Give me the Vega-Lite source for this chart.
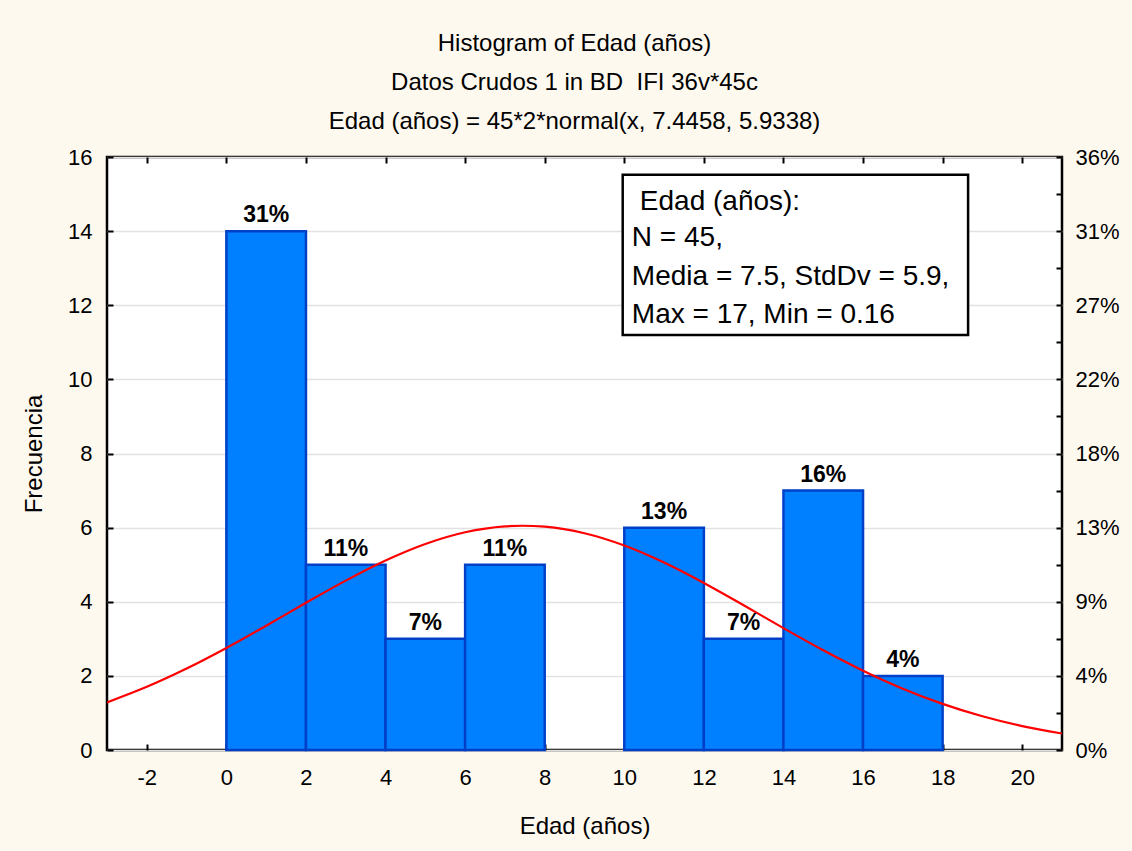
{
  "$schema": "https://vega.github.io/schema/vega-lite/v6.json",
  "width": 955,
  "height": 593,
  "autosize": {"type": "none"},
  "padding": {"left": 107, "top": 157, "right": 70, "bottom": 101},
  "background": "#FEF9EF",
  "title": {
    "text": ["Histogram of Edad (años)", "Datos Crudos 1 in BD \u00a0IFI 36v*45c", "Edad (años) = 45*2*normal(x, 7.4458, 5.9338)"],
    "font": "Liberation Sans",
    "fontSize": 24,
    "fontWeight": "normal",
    "color": "black",
    "lineHeight": 39,
    "anchor": "middle",
    "dx": -10,
    "offset": 12
  },
  "config": {
    "view": {"stroke": "black", "strokeWidth": 2.5, "fill": "white"},
    "axis": {
      "domain": false,
      "labelFont": "Liberation Sans",
      "labelFontSize": 22,
      "labelColor": "black",
      "titleFont": "Liberation Sans",
      "titleFontSize": 24,
      "titleFontWeight": "normal",
      "titleColor": "black",
      "tickColor": "black",
      "tickWidth": 2,
      "tickSize": -6,
      "grid": false
    }
  },
  "datasets": {
    "bins": [
      {"bin_start": 0, "bin_end": 2, "mid": 1, "count": 14, "label": "31%"},
      {"bin_start": 2, "bin_end": 4, "mid": 3, "count": 5, "label": "11%"},
      {"bin_start": 4, "bin_end": 6, "mid": 5, "count": 3, "label": "7%"},
      {"bin_start": 6, "bin_end": 8, "mid": 7, "count": 5, "label": "11%"},
      {"bin_start": 10, "bin_end": 12, "mid": 11, "count": 6, "label": "13%"},
      {"bin_start": 12, "bin_end": 14, "mid": 13, "count": 3, "label": "7%"},
      {"bin_start": 14, "bin_end": 16, "mid": 15, "count": 7, "label": "16%"},
      {"bin_start": 16, "bin_end": 18, "mid": 17, "count": 2, "label": "4%"}
    ],
    "curve": [
      {"x": -3, "y": 1.285}, {"x": -2, "y": 1.705}, {"x": -1, "y": 2.198},
      {"x": 0, "y": 2.754}, {"x": 1, "y": 3.354}, {"x": 2, "y": 3.971},
      {"x": 3, "y": 4.570}, {"x": 4, "y": 5.112}, {"x": 5, "y": 5.558},
      {"x": 6, "y": 5.874}, {"x": 7, "y": 6.034}, {"x": 7.4458, "y": 6.051},
      {"x": 8, "y": 6.025}, {"x": 9, "y": 5.847}, {"x": 10, "y": 5.516},
      {"x": 11, "y": 5.057}, {"x": 12, "y": 4.507}, {"x": 13, "y": 3.905},
      {"x": 14, "y": 3.288}, {"x": 15, "y": 2.691}, {"x": 16, "y": 2.141},
      {"x": 17, "y": 1.655}, {"x": 18, "y": 1.244}, {"x": 19, "y": 0.909},
      {"x": 20, "y": 0.645}, {"x": 21, "y": 0.445}
    ],
    "box": [
      {"x1": 9.96, "x2": 18.64, "y1": 15.52, "y2": 11.2}
    ],
    "stats": [
      {"tx": 10.39, "ty": 14.57, "t": "Edad (años):"},
      {"tx": 10.19, "ty": 13.6, "t": "N = 45,"},
      {"tx": 10.19, "ty": 12.55, "t": "Media = 7.5, StdDv = 5.9,"},
      {"tx": 10.19, "ty": 11.52, "t": "Max = 17, Min = 0.16"}
    ]
  },
  "resolve": {"axis": {"x": "independent", "y": "independent"}},
  "layer": [
    {
      "data": {"name": "bins"},
      "mark": {"type": "rect", "fill": "#0080FF", "stroke": "#0040C8", "strokeWidth": 2.5},
      "encoding": {
        "x": {
          "field": "bin_start", "type": "quantitative",
          "scale": {"domain": [-3, 21], "nice": false, "zero": false},
          "axis": {
            "orient": "bottom",
            "values": [-2, 0, 2, 4, 6, 8, 10, 12, 14, 16, 18, 20],
            "labelExpr": "'' + datum.value",
            "labelPadding": 23,
            "title": "Edad (años)",
            "titlePadding": 26
          }
        },
        "x2": {"field": "bin_end"},
        "y": {
          "field": "count", "type": "quantitative",
          "scale": {"domain": [0, 16], "nice": false},
          "axis": {
            "orient": "left",
            "values": [0, 2, 4, 6, 8, 10, 12, 14, 16],
            "grid": true,
            "gridColor": "#E2E2E2",
            "gridWidth": 1.5,
            "labelPadding": 21,
            "title": "Frecuencia",
            "titlePadding": 21
          }
        }
      }
    },
    {
      "data": {"name": "curve"},
      "mark": {"type": "line", "color": "#FF0000", "strokeWidth": 2.2, "interpolate": "monotone", "clip": true},
      "encoding": {
        "x": {
          "field": "x", "type": "quantitative",
          "scale": {"domain": [-3, 21], "nice": false, "zero": false},
          "axis": {
            "orient": "top",
            "values": [-2, 0, 2, 4, 6, 8, 10, 12, 14, 16, 18, 20],
            "labels": false,
            "title": null
          }
        },
        "y": {
          "field": "y", "type": "quantitative",
          "scale": {"domain": [0, 16], "nice": false},
          "axis": {
            "orient": "right",
            "values": [0, 1, 2, 3, 4, 5, 6, 7, 8, 9, 10, 11, 12, 13, 14, 15, 16],
            "labelExpr": "datum.value % 2 == 0 ? format(datum.value / 45, '.0%') : ''",
            "labelPadding": 19,
            "title": null
          }
        }
      }
    },
    {
      "data": {"name": "bins"},
      "mark": {"type": "text", "font": "Liberation Sans", "fontSize": 23, "fontWeight": "bold", "color": "black", "baseline": "alphabetic", "dy": -9},
      "encoding": {
        "x": {"field": "mid", "type": "quantitative", "scale": {"domain": [-3, 21], "nice": false, "zero": false}, "axis": null},
        "y": {"field": "count", "type": "quantitative", "scale": {"domain": [0, 16], "nice": false}, "axis": null},
        "text": {"field": "label"}
      }
    },
    {
      "data": {"name": "box"},
      "mark": {"type": "rect", "fill": "white", "stroke": "black", "strokeWidth": 2.5},
      "encoding": {
        "x": {"field": "x1", "type": "quantitative", "scale": {"domain": [-3, 21], "nice": false, "zero": false}, "axis": null},
        "x2": {"field": "x2"},
        "y": {"field": "y1", "type": "quantitative", "scale": {"domain": [0, 16], "nice": false}, "axis": null},
        "y2": {"field": "y2"}
      }
    },
    {
      "data": {"name": "stats"},
      "mark": {"type": "text", "font": "Liberation Sans", "fontSize": 28, "color": "black", "align": "left", "baseline": "alphabetic"},
      "encoding": {
        "x": {"field": "tx", "type": "quantitative", "scale": {"domain": [-3, 21], "nice": false, "zero": false}, "axis": null},
        "y": {"field": "ty", "type": "quantitative", "scale": {"domain": [0, 16], "nice": false}, "axis": null},
        "text": {"field": "t"}
      }
    }
  ]
}
